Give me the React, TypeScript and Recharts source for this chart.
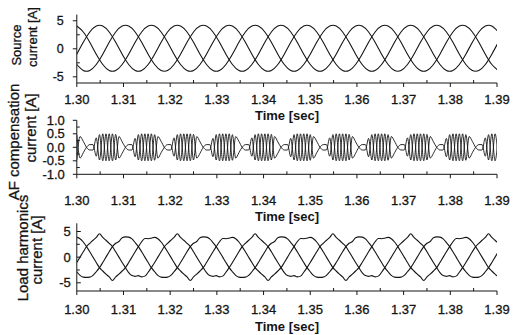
import React from 'react';
import { LineChart, Line, XAxis, YAxis } from 'recharts';

// ---- time bases (seconds) ----
const tS = [
  1.30000, 1.30139, 1.30278, 1.30417, 1.30556, 1.30694, 1.30833, 1.30972, 1.31111, 1.31250, 1.31389, 1.31528, 1.31667, 1.31806, 1.31944, 1.32083, 1.32222, 1.32361,
  1.32500, 1.32639, 1.32778, 1.32917, 1.33056, 1.33194, 1.33333, 1.33472, 1.33611, 1.33750, 1.33889, 1.34028, 1.34167, 1.34306, 1.34444, 1.34583, 1.34722, 1.34861,
  1.35000, 1.35139, 1.35278, 1.35417, 1.35556, 1.35694, 1.35833, 1.35972, 1.36111, 1.36250, 1.36389, 1.36528, 1.36667, 1.36806, 1.36944, 1.37083, 1.37222, 1.37361,
  1.37500, 1.37639, 1.37778, 1.37917, 1.38056, 1.38194, 1.38333, 1.38472, 1.38611, 1.38750, 1.38889, 1.39028,
];

const tL = [
  1.30000, 1.30069, 1.30139, 1.30208, 1.30278, 1.30347, 1.30417, 1.30486, 1.30556, 1.30625, 1.30694, 1.30764, 1.30833, 1.30903, 1.30972, 1.31042, 1.31111, 1.31181,
  1.31250, 1.31319, 1.31389, 1.31458, 1.31528, 1.31597, 1.31667, 1.31736, 1.31806, 1.31875, 1.31944, 1.32014, 1.32083, 1.32153, 1.32222, 1.32292, 1.32361, 1.32431,
  1.32500, 1.32569, 1.32639, 1.32708, 1.32778, 1.32847, 1.32917, 1.32986, 1.33056, 1.33125, 1.33194, 1.33264, 1.33333, 1.33403, 1.33472, 1.33542, 1.33611, 1.33681,
  1.33750, 1.33819, 1.33889, 1.33958, 1.34028, 1.34097, 1.34167, 1.34236, 1.34306, 1.34375, 1.34444, 1.34514, 1.34583, 1.34653, 1.34722, 1.34792, 1.34861, 1.34931,
  1.35000, 1.35069, 1.35139, 1.35208, 1.35278, 1.35347, 1.35417, 1.35486, 1.35556, 1.35625, 1.35694, 1.35764, 1.35833, 1.35903, 1.35972, 1.36042, 1.36111, 1.36181,
  1.36250, 1.36319, 1.36389, 1.36458, 1.36528, 1.36597, 1.36667, 1.36736, 1.36806, 1.36875, 1.36944, 1.37014, 1.37083, 1.37153, 1.37222, 1.37292, 1.37361, 1.37431,
  1.37500, 1.37569, 1.37639, 1.37708, 1.37778, 1.37847, 1.37917, 1.37986, 1.38056, 1.38125, 1.38194, 1.38264, 1.38333, 1.38403, 1.38472, 1.38542, 1.38611, 1.38681,
  1.38750, 1.38819, 1.38889, 1.38958, 1.39028,
];

// ---- Source current [A], three phases (read at tS) ----
const srcA = [
  4.06, 3.00, 1.16, -0.96, -2.80, -3.86, -3.86, -2.80, -0.96, 1.16, 3.00, 4.06,
  4.06, 3.00, 1.16, -0.96, -2.80, -3.86, -3.86, -2.80, -0.96, 1.16, 3.00, 4.06,
  4.06, 3.00, 1.16, -0.96, -2.80, -3.86, -3.86, -2.80, -0.96, 1.16, 3.00, 4.06,
  4.06, 3.00, 1.16, -0.96, -2.80, -3.86, -3.86, -2.80, -0.96, 1.16, 3.00, 4.06,
  4.06, 3.00, 1.16, -0.96, -2.80, -3.86, -3.86, -2.80, -0.96, 1.16, 3.00, 4.06,
  4.06, 3.00, 1.16, -0.96, -2.80, -3.86,
];
const srcB = [
  -0.96, 1.16, 3.00, 4.06,
  4.06, 3.00, 1.16, -0.96, -2.80, -3.86, -3.86, -2.80, -0.96, 1.16, 3.00, 4.06,
  4.06, 3.00, 1.16, -0.96, -2.80, -3.86, -3.86, -2.80, -0.96, 1.16, 3.00, 4.06,
  4.06, 3.00, 1.16, -0.96, -2.80, -3.86, -3.86, -2.80, -0.96, 1.16, 3.00, 4.06,
  4.06, 3.00, 1.16, -0.96, -2.80, -3.86, -3.86, -2.80, -0.96, 1.16, 3.00, 4.06,
  4.06, 3.00, 1.16, -0.96, -2.80, -3.86, -3.86, -2.80, -0.96, 1.16, 3.00, 4.06,
  4.06, 3.00,
];
const srcC = [
  -2.80, -3.86, -3.86, -2.80, -0.96, 1.16, 3.00, 4.06,
  4.06, 3.00, 1.16, -0.96, -2.80, -3.86, -3.86, -2.80, -0.96, 1.16, 3.00, 4.06,
  4.06, 3.00, 1.16, -0.96, -2.80, -3.86, -3.86, -2.80, -0.96, 1.16, 3.00, 4.06,
  4.06, 3.00, 1.16, -0.96, -2.80, -3.86, -3.86, -2.80, -0.96, 1.16, 3.00, 4.06,
  4.06, 3.00, 1.16, -0.96, -2.80, -3.86, -3.86, -2.80, -0.96, 1.16, 3.00, 4.06,
  4.06, 3.00, 1.16, -0.96, -2.80, -3.86, -3.86, -2.80, -0.96, 1.16,
];

// ---- AF compensation current [A] (read at tL) ----
const afA = [
  -0.48, 0.4, 0.22,
  0, -0.1, -0.1, 0.35, -0.47, 0.5, -0.5, 0.5, -0.5, 0.48, -0.4, -0.22, 0, 0.1, 0.1, -0.35, 0.47, -0.5, 0.5, -0.5, 0.5, -0.48, 0.4, 0.22,
  0, -0.1, -0.1, 0.35, -0.47, 0.5, -0.5, 0.5, -0.5, 0.48, -0.4, -0.22, 0, 0.1, 0.1, -0.35, 0.47, -0.5, 0.5, -0.5, 0.5, -0.48, 0.4, 0.22,
  0, -0.1, -0.1, 0.35, -0.47, 0.5, -0.5, 0.5, -0.5, 0.48, -0.4, -0.22, 0, 0.1, 0.1, -0.35, 0.47, -0.5, 0.5, -0.5, 0.5, -0.48, 0.4, 0.22,
  0, -0.1, -0.1, 0.35, -0.47, 0.5, -0.5, 0.5, -0.5, 0.48, -0.4, -0.22, 0, 0.1, 0.1, -0.35, 0.47, -0.5, 0.5, -0.5, 0.5, -0.48, 0.4, 0.22,
  0, -0.1, -0.1, 0.35, -0.47, 0.5, -0.5, 0.5, -0.5, 0.48, -0.4, -0.22, 0, 0.1, 0.1, -0.35, 0.47, -0.5, 0.5, -0.5, 0.5, -0.48, 0.4, 0.22,
  0, -0.1, -0.1, 0.35, -0.47, 0.5, -0.5, 0.5,
];
const afB = [
  0.47, -0.4, -0.2,
  0, 0.1, 0.1, -0.33, 0.47, -0.5, 0.5, -0.5, 0.5, -0.47, 0.4, 0.2, 0, -0.1, -0.1, 0.33, -0.47, 0.5, -0.5, 0.5, -0.5, 0.47, -0.4, -0.2,
  0, 0.1, 0.1, -0.33, 0.47, -0.5, 0.5, -0.5, 0.5, -0.47, 0.4, 0.2, 0, -0.1, -0.1, 0.33, -0.47, 0.5, -0.5, 0.5, -0.5, 0.47, -0.4, -0.2,
  0, 0.1, 0.1, -0.33, 0.47, -0.5, 0.5, -0.5, 0.5, -0.47, 0.4, 0.2, 0, -0.1, -0.1, 0.33, -0.47, 0.5, -0.5, 0.5, -0.5, 0.47, -0.4, -0.2,
  0, 0.1, 0.1, -0.33, 0.47, -0.5, 0.5, -0.5, 0.5, -0.47, 0.4, 0.2, 0, -0.1, -0.1, 0.33, -0.47, 0.5, -0.5, 0.5, -0.5, 0.47, -0.4, -0.2,
  0, 0.1, 0.1, -0.33, 0.47, -0.5, 0.5, -0.5, 0.5, -0.47, 0.4, 0.2, 0, -0.1, -0.1, 0.33, -0.47, 0.5, -0.5, 0.5, -0.5, 0.47, -0.4, -0.2,
  0, 0.1, 0.1, -0.33, 0.47, -0.5, 0.5, -0.5,
];

// ---- Load harmonics current [A], three phases (read at tL) ----
const loadA = [
  3.85, 3.6, 2.95, 2.05, 1.05, 0, -1.05, -2.05, -2.7, -3.3, -3.85, -4.55, -3.85, -3.3, -2.7, -2.05, -1.05, 0, 1.05, 2.05, 3.0, 3.65, 3.6,
  3.7, 3.85, 3.6, 2.95, 2.05, 1.05, 0, -1.05, -2.05, -2.7, -3.3, -3.85, -4.55, -3.85, -3.3, -2.7, -2.05, -1.05, 0, 1.05, 2.05, 3.0, 3.65, 3.6,
  3.7, 3.85, 3.6, 2.95, 2.05, 1.05, 0, -1.05, -2.05, -2.7, -3.3, -3.85, -4.55, -3.85, -3.3, -2.7, -2.05, -1.05, 0, 1.05, 2.05, 3.0, 3.65, 3.6,
  3.7, 3.85, 3.6, 2.95, 2.05, 1.05, 0, -1.05, -2.05, -2.7, -3.3, -3.85, -4.55, -3.85, -3.3, -2.7, -2.05, -1.05, 0, 1.05, 2.05, 3.0, 3.65, 3.6,
  3.7, 3.85, 3.6, 2.95, 2.05, 1.05, 0, -1.05, -2.05, -2.7, -3.3, -3.85, -4.55, -3.85, -3.3, -2.7, -2.05, -1.05, 0, 1.05, 2.05, 3.0, 3.65, 3.6,
  3.7, 3.85, 3.6, 2.95, 2.05, 1.05, 0, -1.05, -2.05, -2.7, -3.3, -3.85,
];
const loadB = [
  -1.05, 0, 1.05, 2.05, 2.7, 3.3, 3.85,
  4.55, 3.85, 3.3, 2.7, 2.05, 1.05, 0, -1.05, -2.05, -3.0, -3.6, -3.75, -3.6, -3.85, -3.7, -2.95, -2.05, -1.05, 0, 1.05, 2.05, 2.7, 3.3, 3.85,
  4.55, 3.85, 3.3, 2.7, 2.05, 1.05, 0, -1.05, -2.05, -3.0, -3.6, -3.75, -3.6, -3.85, -3.7, -2.95, -2.05, -1.05, 0, 1.05, 2.05, 2.7, 3.3, 3.85,
  4.55, 3.85, 3.3, 2.7, 2.05, 1.05, 0, -1.05, -2.05, -3.0, -3.6, -3.75, -3.6, -3.85, -3.7, -2.95, -2.05, -1.05, 0, 1.05, 2.05, 2.7, 3.3, 3.85,
  4.55, 3.85, 3.3, 2.7, 2.05, 1.05, 0, -1.05, -2.05, -3.0, -3.6, -3.75, -3.6, -3.85, -3.7, -2.95, -2.05, -1.05, 0, 1.05, 2.05, 2.7, 3.3, 3.85,
  4.55, 3.85, 3.3, 2.7, 2.05, 1.05, 0, -1.05, -2.05, -3.0, -3.6, -3.75, -3.6, -3.85, -3.7, -2.95, -2.05, -1.05, 0, 1.05, 2.05, 2.7, 3.3, 3.85,
  4.55, 3.85, 3.3, 2.7,
];
const loadC = [
  -2.85, -3.55, -3.9, -3.95, -3.9, -3.55, -2.85, -2.05, -1.05, 0, 1.05, 2.05, 2.7, 3.05, 3.8,
  3.95, 3.9, 3.55, 2.85, 2.05, 1.05, 0, -1.05, -2.05, -2.85, -3.55, -3.9, -3.95, -3.9, -3.55, -2.85, -2.05, -1.05, 0, 1.05, 2.05, 2.7, 3.05, 3.8,
  3.95, 3.9, 3.55, 2.85, 2.05, 1.05, 0, -1.05, -2.05, -2.85, -3.55, -3.9, -3.95, -3.9, -3.55, -2.85, -2.05, -1.05, 0, 1.05, 2.05, 2.7, 3.05, 3.8,
  3.95, 3.9, 3.55, 2.85, 2.05, 1.05, 0, -1.05, -2.05, -2.85, -3.55, -3.9, -3.95, -3.9, -3.55, -2.85, -2.05, -1.05, 0, 1.05, 2.05, 2.7, 3.05, 3.8,
  3.95, 3.9, 3.55, 2.85, 2.05, 1.05, 0, -1.05, -2.05, -2.85, -3.55, -3.9, -3.95, -3.9, -3.55, -2.85, -2.05, -1.05, 0, 1.05, 2.05, 2.7, 3.05, 3.8,
  3.95, 3.9, 3.55, 2.85, 2.05, 1.05, 0, -1.05, -2.05, -2.85, -3.55, -3.9, -3.95, -3.9, -3.55, -2.85, -2.05, -1.05, 0, 1.05,
];

// ---- ticks ----
const xTicks = [1.3, 1.305, 1.31, 1.315, 1.32, 1.325, 1.33, 1.335, 1.34, 1.345, 1.35, 1.355, 1.36, 1.365, 1.37, 1.375, 1.38, 1.385, 1.39];
const yTicks1 = [-5, -2.5, 0, 2.5, 5];
const yMajor1 = [-5, 0, 5];
const yTicks2 = [-1, -0.75, -0.5, -0.25, 0, 0.25, 0.5, 0.75, 1];
const yMajor2 = [-1, -0.5, 0, 0.5, 1];
const yTicks3 = [-5, -2.5, 0, 2.5, 5];
const yMajor3 = [-5, 0, 5];

const FONT = '"Liberation Sans", Arial, Helvetica, sans-serif';
const INK = '#141414';

const srcRows = tS.map((t, i) => ({ t, a: srcA[i], b: srcB[i], c: srcC[i] }));
const afRows = tL.map((t, i) => ({ t, a: afA[i], b: afB[i] }));
const loadRows = tL.map((t, i) => ({ t, a: loadA[i], b: loadB[i], c: loadC[i] }));

const textStroke = { stroke: INK, strokeWidth: 0.3 };

function makeXTick(labelDy: number) {
  return (props: any) => {
    const { x, y, payload } = props;
    const v = Number(payload.value);
    const major = Math.round(v * 1000) % 10 === 0;
    return (
      <g>
        <line x1={x} x2={x} y1={y} y2={major ? y + 4 : y - 3} stroke={INK} strokeWidth={1} />
        {major && (
          <text x={x} y={y + labelDy} textAnchor="middle" fontSize={13} fontFamily={FONT} fill={INK} {...textStroke}>
            {v.toFixed(2)}
          </text>
        )}
      </g>
    );
  };
}

function makeYTick(majors: number[], fmt: (v: number) => string, gap: number, inward: boolean, fs: number) {
  return (props: any) => {
    const { x, y, payload } = props;
    const v = Number(payload.value);
    const major = majors.indexOf(v) >= 0;
    const len = major ? 4 : 3;
    const toRight = inward || !major;
    return (
      <g>
        <line x1={x} x2={toRight ? x + len : x - len} y1={y} y2={y} stroke={INK} strokeWidth={1} />
        {major && (
          <text x={x - gap} y={y} dy="0.36em" textAnchor="end" fontSize={fs} fontFamily={FONT} fill={INK} {...textStroke}>
            {fmt(v)}
          </text>
        )}
      </g>
    );
  };
}

const LEFT = 76.8;
const RIGHT = 514 - 497;

const lineProps = { stroke: INK, strokeWidth: 1.1, dot: false as const, isAnimationActive: false, activeDot: false as const };
const afLineProps = { ...lineProps, strokeWidth: 0.9 };

export default function App() {
  const layer: React.CSSProperties = { position: 'absolute', left: 0, top: 0 };
  return (
    <div style={{ position: 'absolute', left: 0, top: 0, width: 514, height: 335, background: '#fff', overflow: 'hidden' }}>
      <div style={layer}>
        <LineChart width={514} height={335} data={srcRows} margin={{ top: 14.6, right: RIGHT, bottom: 335 - 83 - 1, left: LEFT - 1 }}>
          <XAxis dataKey="t" type="number" domain={[1.3, 1.39]} allowDataOverflow ticks={xTicks} interval={0}
            tickSize={0} tickMargin={0} tickLine={false} tick={makeXTick(21)} axisLine={{ stroke: INK }} height={1} />
          <YAxis type="number" domain={[-6.1, 6.1]} allowDataOverflow ticks={yTicks1} interval={0}
            tickSize={0} tickMargin={0} tickLine={false} tick={makeYTick(yMajor1, (v) => String(v), 13, false, 12.5)} axisLine={{ stroke: INK }} width={1} />
          <Line type="natural" dataKey="a" {...lineProps} />
          <Line type="natural" dataKey="b" {...lineProps} />
          <Line type="natural" dataKey="c" {...lineProps} />
        </LineChart>
      </div>
      <div style={layer}>
        <LineChart width={514} height={335} data={afRows} margin={{ top: 120.3, right: RIGHT, bottom: 335 - 174.3 - 1, left: LEFT - 1 }}>
          <XAxis dataKey="t" type="number" domain={[1.3, 1.39]} allowDataOverflow ticks={xTicks} interval={0}
            tickSize={0} tickMargin={0} tickLine={false} tick={makeXTick(31)} axisLine={{ stroke: INK }} height={1} />
          <YAxis type="number" domain={[-1, 1]} allowDataOverflow ticks={yTicks2} interval={0}
            tickSize={0} tickMargin={0} tickLine={false} tick={makeYTick(yMajor2, (v) => v.toFixed(1), 12, false, 13)} axisLine={{ stroke: INK }} width={1} />
          <Line type="monotone" dataKey="a" {...afLineProps} />
          <Line type="monotone" dataKey="b" {...afLineProps} />
        </LineChart>
      </div>
      <div style={layer}>
        <LineChart width={514} height={335} data={loadRows} margin={{ top: 223.3, right: RIGHT, bottom: 335 - 291 - 1, left: LEFT - 1 }}>
          <XAxis dataKey="t" type="number" domain={[1.3, 1.39]} allowDataOverflow ticks={xTicks} interval={0}
            tickSize={0} tickMargin={0} tickLine={false} tick={makeXTick(23)} axisLine={{ stroke: INK }} height={1} />
          <YAxis type="number" domain={[-6.6, 6.6]} allowDataOverflow ticks={yTicks3} interval={0}
            tickSize={0} tickMargin={0} tickLine={false} tick={makeYTick(yMajor3, (v) => String(v), 6, true, 13)} axisLine={{ stroke: INK }} width={1} />
          <Line type="monotone" dataKey="a" {...lineProps} />
          <Line type="monotone" dataKey="b" {...lineProps} />
          <Line type="monotone" dataKey="c" {...lineProps} />
        </LineChart>
      </div>
      <svg width={514} height={335} style={{ position: 'absolute', left: 0, top: 0, pointerEvents: 'none' }} fontFamily={FONT} fill={INK}>
        <text x={287} y={119.5} textAnchor="middle" fontSize={13} fontWeight="bold">Time [sec]</text>
        <text x={287} y={221} textAnchor="middle" fontSize={13} fontWeight="bold">Time [sec]</text>
        <text x={287} y={331} textAnchor="middle" fontSize={13} fontWeight="bold">Time [sec]</text>
        <text transform="translate(21,45) rotate(-90)" textAnchor="middle" fontSize={13} {...textStroke}>Source</text>
        <text transform="translate(36.5,37) rotate(-90)" textAnchor="middle" fontSize={13} {...textStroke}>current [A]</text>
        <text transform="translate(19,142) rotate(-90)" textAnchor="middle" fontSize={15} {...textStroke}>AF compensation</text>
        <text transform="translate(36,128) rotate(-90)" textAnchor="middle" fontSize={15} {...textStroke}>current [A]</text>
        <text transform="translate(27.5,248) rotate(-90)" textAnchor="middle" fontSize={15} {...textStroke}>Load harmonics</text>
        <text transform="translate(42,250) rotate(-90)" textAnchor="middle" fontSize={15} {...textStroke}>current [A]</text>
      </svg>
    </div>
  );
}
